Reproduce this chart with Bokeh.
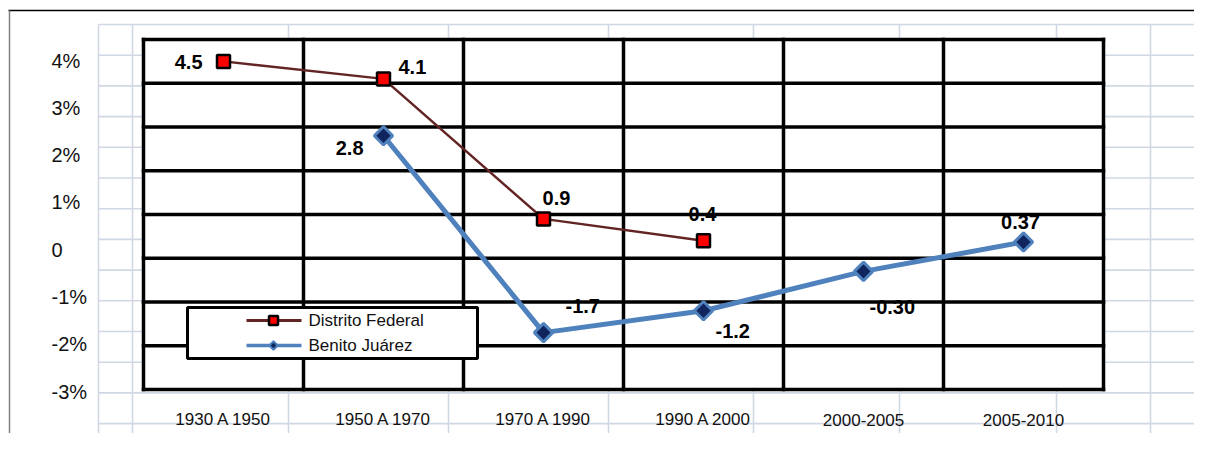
import numpy as np
from bokeh.plotting import figure
from bokeh.models import Range1d, ColumnDataSource
from bokeh.embed import file_html
from bokeh.resources import INLINE
from bokeh.core.properties import value

# ---------------- data ----------------
categories = ["1930 A 1950", "1950 A 1970", "1970 A 1990", "1990 A 2000", "2000-2005", "2005-2010"]
df_values = [4.5, 4.1, 0.9, 0.4, None, None]
df_labels = ["4.5", "4.1", "0.9", "0.4", "", ""]
bj_values = [None, 2.8, -1.7, -1.2, -0.30, 0.37]
bj_labels = ["", "2.8", "-1.7", "-1.2", "-0.30", "0.37"]
y_tick_labels = ["4%", "3%", "2%", "1%", "0", "-1%", "-2%", "-3%"]
series_names = ["Distrito Federal", "Benito Juárez"]
y_min, y_max = -3, 5

# ---------------- layout / style ----------------
W, H, M = 1194, 433, 0
CH_L, CH_R, CH_T, CH_B = 143, 1103, 39, 389      # chart frame (picture px)
FONT = value("Liberation Sans")
DF_LINE, DF_FILL = "#632523", "#FF0000"
BJ_LINE, BJ_FILL = "#4F81BD", "#10255E"
XL_GRID = "#D0D7E5"

# label offsets (screen px) and alignment for data labels
df_off = [(-21, 1, "right"), (15, -12, "left"), (13, -21, "center"), (-1, -27, "center"), None, None]
bj_off = [None, (-20, 12, "right"), (22, -27, "left"), (12, 20, "left"), (6, 36, "left"), (-3, -20, "center")]

n = len(categories)
ppx = (CH_R - CH_L) / n
x_start = -(CH_L - M) / ppx
ppy = (CH_B - CH_T) / (y_max - y_min)
y_end = y_max + (CH_T - M) / ppy

p = figure(width=W, height=H, output_backend="svg", toolbar_location=None,
           x_range=Range1d(x_start, x_start + W / ppx),
           y_range=Range1d(y_end - H / ppy, y_end),
           min_border=0, outline_line_color=None, background_fill_color="white",
           border_fill_color="white")
p.axis.visible = False
p.grid.visible = False
p.extra_x_ranges = {"px": Range1d(M, M + W)}
p.extra_y_ranges = {"px": Range1d(M + H, M)}

# ---------------- spreadsheet background ----------------
hy = [24 + 30.7 * i for i in range(15)]
p.multi_line(xs=[[98, 1210]] * len(hy), ys=[[y, y] for y in hy], line_color=XL_GRID,
             line_width=1.6, x_range_name="px", y_range_name="px")
vx = [98, 132, 288, 448, 608, 753, 899, 1056, 1150]
p.multi_line(xs=[[x, x] for x in vx], ys=[[24, 449]] * len(vx), line_color=XL_GRID,
             line_width=1.6, x_range_name="px", y_range_name="px")
p.line(x=[8, 1210], y=[10, 10], line_color="black", line_width=1.5,
       x_range_name="px", y_range_name="px")
p.line(x=[9, 9], y=[10, 449], line_color="#808080", line_width=1.5,
       x_range_name="px", y_range_name="px")

# y "tick" labels in spreadsheet cells
ty = np.linspace(60, 391, len(y_tick_labels))
p.text(x=[51] * len(y_tick_labels), y=ty, text=y_tick_labels, text_font=FONT,
       text_font_size="20px", text_align="left", text_baseline="middle", text_color="#111111",
       x_range_name="px", y_range_name="px")

# ---------------- chart ----------------
p.quad(left=0, right=n, bottom=y_min, top=y_max, fill_color="white", line_color=None)
hl = list(range(y_min, y_max + 1))
p.multi_line(xs=[[0, n]] * len(hl), ys=[[v, v] for v in hl], line_color="black",
             line_width=3.5, line_cap="square")
p.multi_line(xs=[[i, i] for i in range(n + 1)], ys=[[y_min, y_max]] * (n + 1),
             line_color="black", line_width=3.5, line_cap="square")

# category labels
p.text(x=[i + 0.5 for i in range(n)], y=[419] * n, text=categories, text_font=FONT,
       text_font_size="17px", text_align="center", text_baseline="middle",
       text_color="#111111", y_range_name="px")

def series_source(vals, labels, offs):
    xs, ys, ts, xo, yo, al = [], [], [], [], [], []
    for i, v in enumerate(vals):
        if v is None:
            continue
        xs.append(i + 0.5); ys.append(v); ts.append(labels[i])
        xo.append(offs[i][0]); yo.append(offs[i][1]); al.append(offs[i][2])
    return ColumnDataSource(dict(x=xs, y=ys, t=ts, xo=xo, yo=yo, al=al))

src_df = series_source(df_values, df_labels, df_off)
src_bj = series_source(bj_values, bj_labels, bj_off)

p.line("x", "y", source=src_bj, line_color=BJ_LINE, line_width=5)
p.scatter("x", "y", source=src_bj, marker="square", angle=np.pi / 4, size=13,
          fill_color=BJ_FILL, line_color=BJ_LINE, line_width=3)
p.line("x", "y", source=src_df, line_color=DF_LINE, line_width=2.5)
p.scatter("x", "y", source=src_df, marker="square", size=13,
          fill_color=DF_FILL, line_color="black", line_width=2.5)

for src in (src_df, src_bj):
    p.text("x", "y", text="t", source=src, x_offset="xo", y_offset="yo",
           text_align="al", text_baseline="middle", text_font=FONT,
           text_font_size="20px", text_font_style="bold", text_color="black")

# ---------------- legend box ----------------
p.quad(left=187, right=477, top=307, bottom=358, fill_color="white", line_color="black",
       line_width=3, x_range_name="px", y_range_name="px")
leg_y = [320, 345]
p.line(x=[246, 301], y=[leg_y[0]] * 2, line_color=DF_LINE, line_width=3,
       x_range_name="px", y_range_name="px")
p.scatter(x=[273], y=[leg_y[0]], marker="square", size=9, fill_color=DF_FILL,
          line_color="black", line_width=2.5, x_range_name="px", y_range_name="px")
p.line(x=[246, 301], y=[leg_y[1]] * 2, line_color=BJ_LINE, line_width=3.5,
       x_range_name="px", y_range_name="px")
p.scatter(x=[273], y=[leg_y[1]], marker="square", angle=np.pi / 4, size=6,
          fill_color=BJ_FILL, line_color=BJ_LINE, line_width=2,
          x_range_name="px", y_range_name="px")
p.text(x=[308, 308], y=leg_y, text=series_names, text_font=FONT, text_font_size="17px",
       text_align="left", text_baseline="middle", text_color="#111111",
       x_range_name="px", y_range_name="px")

open("out.html", "w").write(file_html(p, INLINE))
